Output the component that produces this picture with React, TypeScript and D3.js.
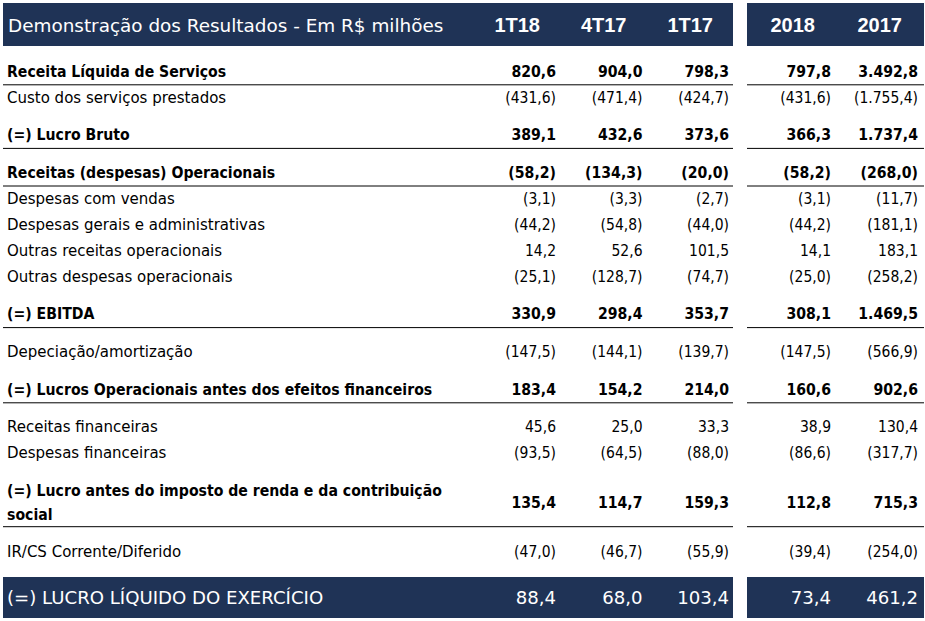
import React from "react";
import * as d3 from "d3";

const title = "Demonstração dos Resultados - Em R$ milhões";
const quarterCols = ["1T18", "4T17", "1T17"];
const yearCols = ["2018", "2017"];

const rowLabels = [
  "Receita Líquida de Serviços",
  "Custo dos serviços prestados",
  "(=) Lucro Bruto",
  "Receitas (despesas) Operacionais",
  "Despesas com vendas",
  "Despesas gerais e administrativas",
  "Outras receitas operacionais",
  "Outras despesas operacionais",
  "(=) EBITDA",
  "Depeciação/amortização",
  "(=) Lucros Operacionais antes dos efeitos financeiros",
  "Receitas financeiras",
  "Despesas financeiras",
  "(=) Lucro antes do imposto de renda e da contribuição|social",
  "IR/CS Corrente/Diferido",
];
const totalLabel = "(=) LUCRO LÍQUIDO DO EXERCÍCIO";

const v1T18 = [820.6, -431.6, 389.1, -58.2, -3.1, -44.2, 14.2, -25.1, 330.9, -147.5, 183.4, 45.6, -93.5, 135.4, -47.0];
const v4T17 = [904.0, -471.4, 432.6, -134.3, -3.3, -54.8, 52.6, -128.7, 298.4, -144.1, 154.2, 25.0, -64.5, 114.7, -46.7];
const v1T17 = [798.3, -424.7, 373.6, -20.0, -2.7, -44.0, 101.5, -74.7, 353.7, -139.7, 214.0, 33.3, -88.0, 159.3, -55.9];
const v2018 = [797.8, -431.6, 366.3, -58.2, -3.1, -44.2, 14.1, -25.0, 308.1, -147.5, 160.6, 38.9, -86.6, 112.8, -39.4];
const v2017 = [3492.8, -1755.4, 1737.4, -268.0, -11.7, -181.1, 183.1, -258.2, 1469.5, -566.9, 902.6, 130.4, -317.7, 715.3, -254.0];
const totals = [88.4, 68.0, 103.4, 73.4, 461.2];

// row styling (not data)
const boldRows = new Set([0, 2, 3, 8, 10, 13]);
const lineRows = new Set([0, 2, 3, 8, 10, 13]);
const gapBefore = new Set([2, 3, 8, 9, 10, 11, 13, 14]);
const twoLineRows = new Set([13]);

const NAVY = "#1f3356";
const FONT = "'DejaVu Sans', Verdana, sans-serif";
const HEAD_FONT = "'Liberation Sans', Arial, sans-serif";

const locale = d3.formatLocale({ decimal: ",", thousands: ".", grouping: [3], currency: ["R$", ""] });
const fmt1 = locale.format(",.1f");
const fmtVal = (v: number) => (v < 0 ? `(${fmt1(-v)})` : fmt1(v));

function T(props: {
  x: number; y: number; text: string; anchor?: string; size: number; bold?: boolean;
  fill?: string; family?: string; sx?: number;
}) {
  const { x, y, text, anchor = "start", size, bold, fill = "#000", family = FONT, sx = 1 } = props;
  return (
    <text
      transform={`translate(${x},${y}) scale(${sx},1)`}
      textAnchor={anchor}
      fontSize={size}
      fontWeight={bold ? "bold" : "normal"}
      fill={fill}
      fontFamily={family}
    >
      {text}
    </text>
  );
}

export default function App() {
  const W = 925, H = 621;
  const leftX0 = 3, leftX1 = 733, rightX0 = 747, rightX1 = 924;

  const xQ = d3.scalePoint<string>().domain(quarterCols).range([556, 729]);
  const xY = d3.scalePoint<string>().domain(yearCols).range([831, 918]);
  const colRight = [...quarterCols.map((c) => xQ(c)!), ...yearCols.map((c) => xY(c)!)];
  const allCols = [...quarterCols, ...yearCols];
  const series = [v1T18, v4T17, v1T17, v2018, v2017];

  // compute row centres
  const rowStep = 26, gap = 11.6, extraLine = 24;
  const centers: number[] = [];
  let y = 71;
  rowLabels.forEach((_, i) => {
    if (i > 0) {
      y += rowStep;
      if (gapBefore.has(i)) y += gap;
      if (twoLineRows.has(i - 1)) y += extraLine;
    }
    centers.push(y);
  });
  const valueCenter = (i: number) => (twoLineRows.has(i) ? centers[i] + extraLine / 2 : centers[i]);
  const lineY = (i: number) => (twoLineRows.has(i) ? centers[i] + extraLine + 12.5 : centers[i] + 13.8);

  const totalTop = 577, totalBottom = 618;
  const totalC = (totalTop + totalBottom) / 2;

  const labelSize = 15;
  const bSx = 0.94;

  return (
    <svg width={W} height={H} style={{ position: "absolute", left: 0, top: 0, background: "#fff" }}>
      <rect x={0} y={0} width={W} height={H} fill="#fff" />
      {/* header bars */}
      <rect x={leftX0} y={3} width={leftX1 - leftX0} height={43} fill={NAVY} />
      <rect x={rightX0} y={3} width={rightX1 - rightX0} height={43} fill={NAVY} />
      <T x={8} y={31.5} text={title} size={18.5} fill="#fff" sx={0.995} />
      {allCols.map((c, j) => (
        <T key={c} x={colRight[j] - 16} y={32} text={c} anchor="end" size={20} bold fill="#fff" family={HEAD_FONT} />
      ))}

      {/* rows */}
      {rowLabels.map((lab, i) => {
        const bold = boldRows.has(i);
        const parts = lab.split("|");
        const vc = valueCenter(i);
        return (
          <g key={i}>
            {parts.map((p, k) => (
              <T key={k} x={7} y={centers[i] + 5.5 + k * extraLine} text={p} size={labelSize} bold={bold} sx={bold ? bSx : 1} />
            ))}
            {series.map((s, j) => (
              <T key={j} x={colRight[j]} y={vc + 5.5} text={fmtVal(s[i])} anchor="end" size={labelSize} bold={bold} sx={bold ? bSx : 0.93} />
            ))}
            {lineRows.has(i) && (
              <g>
                <line x1={leftX0} x2={leftX1} y1={lineY(i)} y2={lineY(i)} stroke="#000" strokeWidth={1} />
                <line x1={rightX0} x2={rightX1} y1={lineY(i)} y2={lineY(i)} stroke="#000" strokeWidth={1} />
              </g>
            )}
          </g>
        );
      })}

      {/* total bar */}
      <rect x={leftX0} y={totalTop} width={leftX1 - leftX0} height={totalBottom - totalTop} fill={NAVY} />
      <rect x={rightX0} y={totalTop} width={rightX1 - rightX0} height={totalBottom - totalTop} fill={NAVY} />
      <T x={7} y={totalC + 6.8} text={totalLabel} size={18.5} fill="#fff" sx={0.98} />
      {totals.map((v, j) => (
        <T key={j} x={colRight[j]} y={totalC + 6.8} text={fmtVal(v)} anchor="end" size={18.5} fill="#fff" sx={0.98} />
      ))}
    </svg>
  );
}
